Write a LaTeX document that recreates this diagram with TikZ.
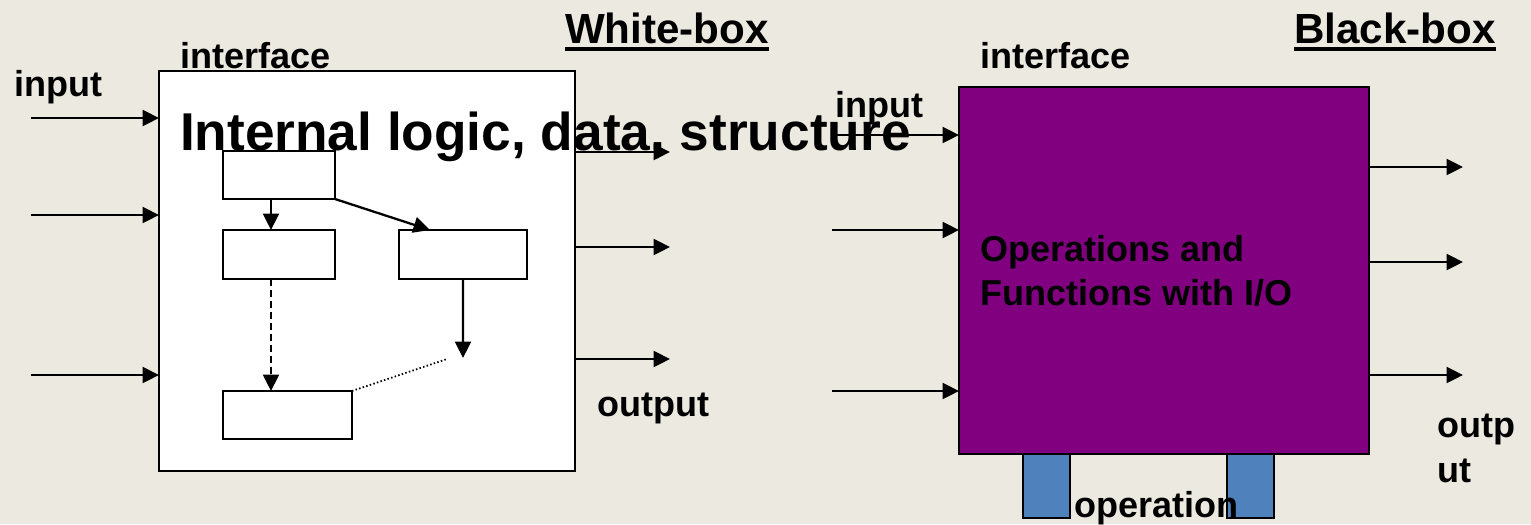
\documentclass[tikz,border=0pt]{standalone}
\usepackage{fontspec}
\setmainfont{Liberation Sans}
\usetikzlibrary{arrows.meta,positioning,calc}
\definecolor{slidebg}{RGB}{236,234,224}
\definecolor{boxpurple}{RGB}{128,0,128}
\definecolor{legblue}{RGB}{79,129,189}

\begin{document}
\begin{tikzpicture}[x=0.02cm, y=-0.02cm,
    every node/.style={inner sep=0pt, outer sep=0pt, font=\bfseries\fontsize{20.5}{24.5}\selectfont},
    lbl/.style={anchor=base west},
    heading/.style={anchor=base west, font=\bfseries\fontsize{24}{28}\selectfont},
    box/.style={draw, line width=1.5pt, fill=white, anchor=north west},
    leg/.style={draw, line width=1.2pt, fill=legblue, anchor=north west, minimum width=0.94cm, minimum height=1.28cm},
    arr/.style={-{Triangle[length=0.33cm, width=0.32cm]}, line width=1.3pt}]

    % Background of the slide
    \fill[slidebg] (0,0) rectangle (1531,524);

    % White-box with its inner blocks
    \node[box, minimum width=8.32cm, minimum height=8cm] (wb) at (159,71) {};
    \node[box, minimum width=2.24cm, minimum height=0.96cm] (ba) at (223,151) {};
    \node[box, minimum width=2.24cm, minimum height=0.98cm] (bb) at (223,230) {};
    \node[box, minimum width=2.56cm, minimum height=0.98cm] (bc) at (399,230) {};
    \node[box, minimum width=2.58cm, minimum height=0.96cm] (bd) at (223,391) {};

    % Flow inside the white-box
    \draw[arr] ([xshift=-0.16cm]ba.south) -- ([xshift=-0.16cm]bb.north);
    \draw[arr] (ba.south east) -- ([xshift=-0.66cm]bc.north);
    \draw[arr, dash pattern=on 0.14cm off 0.08cm] ([xshift=-0.16cm]bb.south) -- ([xshift=-0.33cm]bd.north);
    \coordinate (cend) at (463,358);
    \draw[arr] (bc.south) -- (cend);
    \coordinate (dend) at (447,359);
    \draw[line width=1pt, dash pattern=on 0.03cm off 0.045cm] (bd.north east) -- (dend);

    \node[anchor=base west, font=\bfseries\fontsize{30.3}{36}\selectfont] (inlogic) at (180,150) {Internal logic, data, structure};

    % Inputs and outputs of the white-box
    \foreach \y/\n in {118/1,215/2,375/3} {
        \coordinate (wi\n) at (31,\y);
        \draw[arr] (wi\n) -- (wi\n -| wb.west);
    }
    \foreach \y/\n in {152/1,247/2,359/3} {
        \coordinate (wo\n) at (670,\y);
        \draw[arr] (wo\n -| wb.east) -- (wo\n);
    }

    % Black-box
    \node[box, fill=boxpurple, minimum width=8.2cm, minimum height=7.34cm] (bx) at (959,87) {};
    \node[leg] (leg1) at (1023,454) {};
    \node[leg] (leg2) at (1227,454) {};

    % Inputs and outputs of the black-box
    \foreach \y/\n in {135/1,230/2,391/3} {
        \coordinate (bi\n) at (832,\y);
        \draw[arr] (bi\n) -- (bi\n -| bx.west);
    }
    \foreach \y/\n in {167/1,262/2,375/3} {
        \coordinate (bo\n) at (1463,\y);
        \draw[arr] (bo\n -| bx.east) -- (bo\n);
    }

    % Labels
    \node[heading] (twb) at (565,43) {White-box};
    \draw[line width=0.08cm] ([yshift=-0.12cm]twb.base west) -- ([yshift=-0.12cm]twb.base east);
    \node[heading] (tbb) at (1294,43) {Black-box};
    \draw[line width=0.08cm] ([yshift=-0.12cm]tbb.base west) -- ([yshift=-0.12cm]tbb.base east);

    \node[lbl] (lin1) at (14,96) {input};
    \node[lbl] (lif1) at (180,68) {interface};
    \node[lbl] (lout1) at (597,416) {output};
    \node[lbl] (lin2) at (835,117) {input};
    \node[lbl] (lif2) at (980,68) {interface};
    \node[lbl, align=left] (lops) at (980,305) {Operations and\\Functions with I/O};
    \node[lbl, align=left, font=\bfseries\fontsize{20.5}{25.6}\selectfont] (lout2) at (1437,482) {outp\\ut};
    \node[lbl] (lop) at (1074,517) {operation};
\end{tikzpicture}
\end{document}
